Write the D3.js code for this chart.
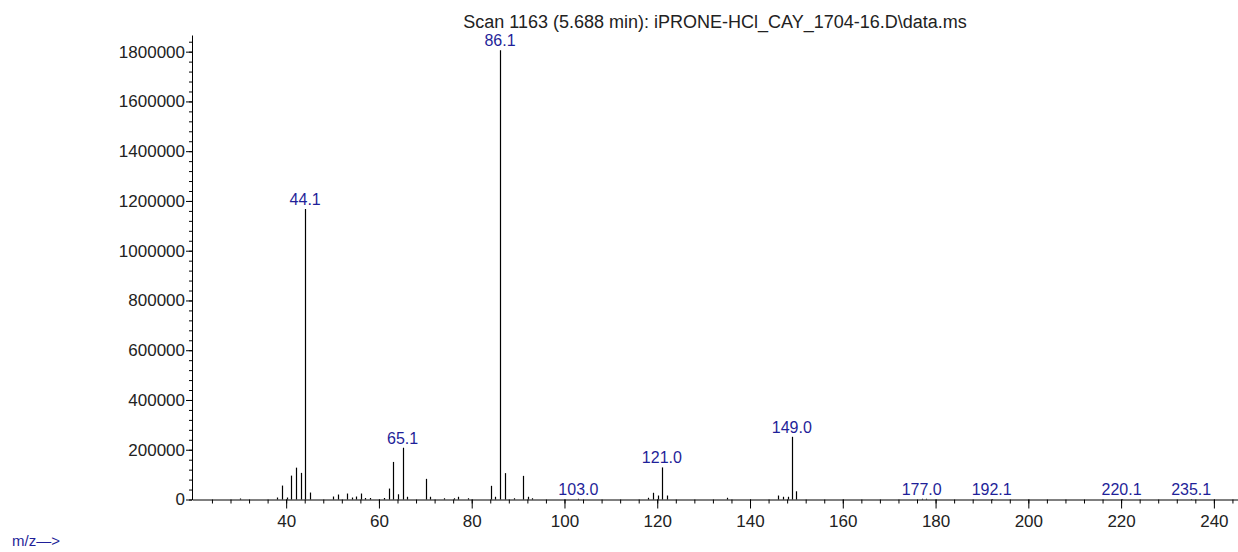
<!DOCTYPE html>
<html>
<head>
<meta charset="utf-8">
<script src="https://cdn.jsdelivr.net/npm/d3@7"></script>
<style>
  body { margin: 0; background: #fff; }
  text { font-family: "Liberation Sans", Arial, sans-serif; }
</style>
</head>
<body>
<svg id="spectrum" width="1238" height="552"></svg>
<script>
// spectrum values
const mz = [30.1, 38.1, 39.1, 40.1, 41.1, 42.1, 43.1, 44.1, 45.1, 50.1, 51.1, 53.1, 54.1, 55.1, 56.1, 57.1, 58.1,
  61.1, 62.1, 63.1, 64.1, 65.1, 66.1, 70.1, 71.1, 74.1, 76.1, 77.1, 79.1, 84.1, 85.1, 86.1, 87.1, 89.1, 91.1, 92.1, 93.1,
  103.0, 118.1, 119.1, 120.1, 121.0, 122.0, 135.1, 146.1, 147.1, 148.1, 149.0, 150.0, 177.0, 178.0, 192.1, 220.1, 235.1];
const abundance = [4000, 8000, 56000, 8000, 96000, 128000, 107000, 1168000, 28000, 12000, 20000, 24000, 8000, 12000, 24000, 6000, 6000,
  6000, 44000, 151000, 21000, 208000, 11000, 83000, 11000, 5000, 5000, 11000, 5000, 55000, 11000, 1806000, 106000, 5000, 95000, 11000, 5000,
  3000, 7000, 27000, 16000, 129000, 16000, 7000, 16000, 11000, 11000, 252000, 33000, 3000, 3000, 2000, 2000, 2000];

const labelMz = [44.1, 65.1, 86.1, 103.0, 121.0, 149.0, 177.0, 192.1, 220.1, 235.1];
const labelText = ['44.1', '65.1', '86.1', '103.0', '121.0', '149.0', '177.0', '192.1', '220.1', '235.1'];

const xMajor = [40, 60, 80, 100, 120, 140, 160, 180, 200, 220, 240];
const yMajor = [0, 200000, 400000, 600000, 800000, 1000000, 1200000, 1400000, 1600000, 1800000];

const title = 'Scan 1163 (5.688 min): iPRONE-HCl_CAY_1704-16.D\\data.ms';

const svg = d3.select('#spectrum');
const plot = { left: 192, right: 1238, top: 35, bottom: 499.5 };
const blue = '#1f1f99';

const x = d3.scaleLinear().domain([19.7, 245.2]).range([plot.left, plot.right]);
const y = d3.scaleLinear().domain([0, 1867000]).range([plot.bottom, plot.top]);

const peaks = mz.map((m, i) => ({ mz: m, ab: abundance[i] }));

// minor ticks first, majors on top
svg.append('g')
  .attr('transform', `translate(0,${plot.bottom})`)
  .call(d3.axisBottom(x).tickValues(d3.range(24, 245, 4)).tickSize(4).tickFormat(''))
  .call(g => g.select('.domain').remove());

svg.append('g')
  .attr('transform', `translate(${plot.left},0)`)
  .call(d3.axisLeft(y).tickValues(d3.range(0, 1860001, 40000)).tickSize(3).tickFormat(''))
  .call(g => g.select('.domain').remove());

svg.append('g')
  .attr('class', 'xaxis')
  .attr('transform', `translate(0,${plot.bottom})`)
  .call(d3.axisBottom(x).tickValues(xMajor).tickSize(9).tickPadding(6).tickSizeOuter(0))
  .call(g => g.selectAll('text').attr('font-size', 17).attr('fill', '#222'));

svg.append('g')
  .attr('class', 'yaxis')
  .attr('transform', `translate(${plot.left},0)`)
  .call(d3.axisLeft(y).tickValues(yMajor).tickSize(6).tickPadding(1).tickSizeOuter(0).tickFormat(d3.format('d')))
  .call(g => g.selectAll('text').attr('font-size', 17).attr('fill', '#222'));

svg.selectAll('.domain').attr('stroke', '#000');
svg.selectAll('.tick line').attr('stroke', '#000');

// peaks
svg.append('g')
  .selectAll('line')
  .data(peaks)
  .enter().append('line')
  .attr('x1', d => Math.round(x(d.mz)) + 0.5)
  .attr('x2', d => Math.round(x(d.mz)) + 0.5)
  .attr('y1', y(0))
  .attr('y2', d => y(d.ab))
  .attr('stroke', '#000')
  .attr('stroke-width', 1.2);

// peak labels
svg.append('g')
  .selectAll('text')
  .data(labelMz)
  .enter().append('text')
  .attr('x', d => x(d))
  .attr('y', d => y(peaks.find(p => p.mz === d).ab) - 4)
  .attr('text-anchor', 'middle')
  .attr('font-size', 16)
  .attr('fill', blue)
  .text((d, i) => labelText[i]);

svg.append('text')
  .attr('x', (plot.left + plot.right) / 2)
  .attr('y', 28)
  .attr('text-anchor', 'middle')
  .attr('font-size', 18)
  .attr('fill', '#222')
  .text(title);

svg.append('text')
  .attr('x', 12)
  .attr('y', 546)
  .attr('font-size', 15)
  .attr('fill', blue)
  .text('m/z\u2014>');
</script>
</body>
</html>
